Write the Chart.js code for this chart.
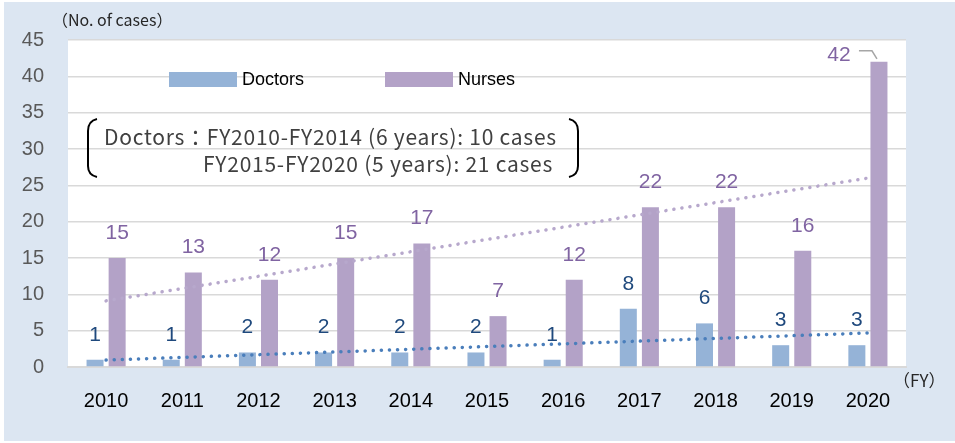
<!DOCTYPE html>
<html>
<head>
<meta charset="utf-8">
<script src="https://cdn.jsdelivr.net/npm/chart.js@4"></script>
<style>
  html, body { margin: 0; padding: 0; background: #fff; }
  #wrap { position: absolute; left: 4px; top: 2px; width: 951px; height: 439px; background: #dce6f2; }
</style>
</head>
<body>
<div id="wrap"><canvas id="myChart" width="951" height="439"></canvas></div>
<script>
// data
const years = ['2010','2011','2012','2013','2014','2015','2016','2017','2018','2019','2020'];
const doctors = [1, 1, 2, 2, 2, 2, 1, 8, 6, 3, 3];
const nurses = [15, 13, 12, 15, 17, 7, 12, 22, 22, 16, 42];
// linear trend lines, values at first and last year
const doctorsTrend = [0.95, 4.68];
const nursesTrend = [9.1, 26.0];
const yMax = 45;
const yStep = 5;

const note1 = 'Doctors：FY2010-FY2014 (6 years): 10 cases';
const note2 = 'FY2015-FY2020 (5 years): 21 cases';

const NUM_FONT = '"Liberation Sans", Arial, sans-serif';
const JP_FONT = '"Noto Sans CJK JP", "Liberation Sans", sans-serif';
// canvas offset inside page
const OX = 4, OY = 2;

// white plot background
const plotBg = {
  id: 'plotBg',
  beforeDraw(chart) {
    const a = chart.chartArea, c = chart.ctx;
    c.save();
    c.fillStyle = '#ffffff';
    c.fillRect(a.left, a.top, a.right - a.left, a.bottom - a.top);
    c.restore();
  }
};

// value labels, legend, note box and axis captions
const extras = {
  id: 'extras',
  afterDraw(chart) {
    const c = chart.ctx;
    c.save();
    c.textAlign = 'center';
    c.textBaseline = 'middle';
    c.font = '21px ' + NUM_FONT;
    [0, 1].forEach(function(di) {
      const ds = chart.data.datasets[di];
      const meta = chart.getDatasetMeta(di);
      meta.data.forEach(function(el, i) {
        c.fillStyle = di == 0 ? '#1f497d' : '#8064a2';
        let x = el.x, y = el.y - 25;
        if (y < chart.chartArea.top + 10) {
          // pushed aside with a leader line, like the original
          x = el.x - 40; y = el.y - 7;
          c.strokeStyle = '#a6a6a6';
          c.lineWidth = 1.5;
          c.beginPath();
          c.moveTo(el.x - 20, el.y - 11);
          c.lineTo(el.x - 7, el.y - 11);
          c.lineTo(el.x - 2, el.y - 3);
          c.stroke();
        }
        c.fillText(String(ds.data[i]), x, y);
      });
    });

    // legend
    c.textAlign = 'left';
    c.font = '18px ' + NUM_FONT;
    const leg = [[169, 242], [385, 458]];
    [0, 1].forEach(function(di) {
      const ds = chart.data.datasets[di];
      c.fillStyle = ds.backgroundColor;
      c.fillRect(leg[di][0] - OX, 72 - OY, 68, 15);
      c.fillStyle = '#000';
      c.fillText(ds.label, leg[di][1] - OX, 80 - OY);
    });

    // note with brackets; letter spacing so line 2 spans 203..553
    c.font = '21px ' + JP_FONT;
    const sp = (350 - c.measureText(note2).width) / note2.length;
    c.letterSpacing = sp.toFixed(2) + 'px';
    c.fillStyle = '#404040';
    c.textAlign = 'left';
    c.fillText(note1, 104 - OX, 137 - OY);
    c.fillText(note2, 203 - OX, 164 - OY);
    c.letterSpacing = '0px';
    c.strokeStyle = '#000';
    c.lineWidth = 2;
    c.beginPath();
    c.moveTo(97 - OX, 119 - OY);
    c.quadraticCurveTo(88 - OX, 121 - OY, 88 - OX, 131 - OY);
    c.lineTo(88 - OX, 166 - OY);
    c.quadraticCurveTo(88 - OX, 175 - OY, 97 - OX, 177 - OY);
    c.moveTo(569 - OX, 119 - OY);
    c.quadraticCurveTo(578 - OX, 121 - OY, 578 - OX, 131 - OY);
    c.lineTo(578 - OX, 166 - OY);
    c.quadraticCurveTo(578 - OX, 175 - OY, 569 - OX, 177 - OY);
    c.stroke();

    // axis captions
    c.textAlign = 'left';
    c.fillStyle = '#262626';
    c.font = '16px ' + JP_FONT;
    c.fillText('（No. of cases）', 52 - OX, 20 - OY);
    c.font = '17px ' + JP_FONT;
    c.fillText('（FY）', 893 - OX, 381 - OY);
    c.restore();
  }
};

const ctx = document.getElementById('myChart');

new Chart(ctx, {
  type: 'bar',
  data: {
    labels: years,
    datasets: [{
      label: 'Doctors',
      data: doctors,
      backgroundColor: '#95b3d7',
      categoryPercentage: 0.58,
      barPercentage: 0.77,
      order: 2
    }, {
      label: 'Nurses',
      data: nurses,
      backgroundColor: '#b3a2c7',
      categoryPercentage: 0.58,
      barPercentage: 0.77,
      order: 2
    }, {
      type: 'line',
      label: 'Doctors trend',
      data: [{x: years[0], y: doctorsTrend[0]}, {x: years[years.length - 1], y: doctorsTrend[1]}],
      borderColor: '#4a7ebb',
      borderWidth: 3.5,
      borderDash: [0.1, 8],
      borderCapStyle: 'round',
      pointRadius: 0,
      order: 1
    }, {
      type: 'line',
      label: 'Nurses trend',
      data: [{x: years[0], y: nursesTrend[0]}, {x: years[years.length - 1], y: nursesTrend[1]}],
      borderColor: '#b7a8cc',
      borderWidth: 3.5,
      borderDash: [0.1, 8],
      borderCapStyle: 'round',
      pointRadius: 0,
      order: 1
    }]
  },
  options: {
    responsive: false,
    animation: false,
    layout: { padding: { top: 38, right: 49, left: 0, bottom: 0 } },
    plugins: {
      legend: { display: false },
      tooltip: { enabled: false }
    },
    scales: {
      x: {
        grid: { display: false, drawTicks: false },
        border: { color: '#d9d9d9', width: 2 },
        ticks: { color: '#000', font: { size: 20, family: NUM_FONT }, padding: 22, maxRotation: 0 },
        afterFit(s) { s.height = 74; }
      },
      y: {
        min: 0,
        max: yMax,
        ticks: { stepSize: yStep, color: '#595959', font: { size: 20, family: NUM_FONT }, padding: 24 },
        grid: { color: '#d9d9d9', lineWidth: 1.5, drawTicks: false },
        border: { display: false },
        afterFit(s) { s.width = 64; }
      }
    }
  },
  plugins: [plotBg, extras]
});
</script>
</body>
</html>
